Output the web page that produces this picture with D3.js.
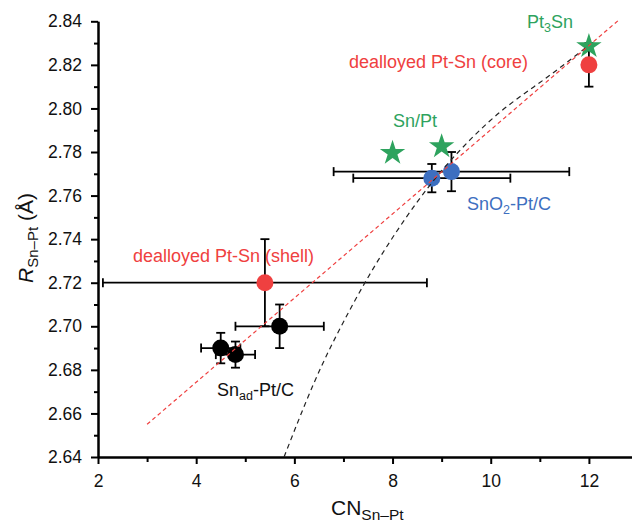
<!DOCTYPE html>
<html>
<head>
<meta charset="utf-8">
<script src="https://cdn.jsdelivr.net/npm/d3@7/dist/d3.min.js"></script>
<style>
  body { margin: 0; background: #fff; }
  svg { display: block; font-family: "Liberation Sans", Arial, sans-serif; }
  .axis path, .axis line { stroke: #000; stroke-width: 2; }
  .axis text { font-size: 17.5px; fill: #111; }
</style>
</head>
<body>
<div id="viz"></div>
<script>
// ---- data ----
var xTicks = [2, 4, 6, 8, 10, 12];
var xMinor = [3, 5, 7, 9, 11, 13];
var yTicks = [2.64, 2.66, 2.68, 2.70, 2.72, 2.74, 2.76, 2.78, 2.80, 2.82, 2.84];
var yMinor = [2.65, 2.67, 2.69, 2.71, 2.73, 2.75, 2.77, 2.79, 2.81, 2.83];

// Sn_ad-Pt/C (black)
var snadCN = [4.5, 4.8, 5.7];
var snadR = [2.690, 2.687, 2.700];
var snadCNErr = [0.4, 0.4, 0.9];
var snadRErr = [0.007, 0.006, 0.010];

// dealloyed Pt-Sn shell / core (red)
var dealCN = [5.4, 12.0];
var dealR = [2.720, 2.820];
var dealCNErr = [3.3, 0];
var dealRErr = [0.020, 0.010];

// SnO2-Pt/C (blue)
var sno2CN = [8.8, 9.2];
var sno2R = [2.768, 2.771];
var sno2CNErr = [1.6, 2.4];
var sno2RErr = [0.0065, 0.009];

// reference compounds (green stars): Sn/Pt, Sn/Pt, Pt3Sn
var refCN = [8.0, 9.0, 12.0];
var refR = [2.780, 2.783, 2.829];

// linear fit (red dashed)
var fitCN = [3.0, 12.63];
var fitR = [2.655, 2.841];

// model curve (black dashed)
var curveCN = [5.79, 6.4, 7.0, 7.7, 8.5, 9.3, 10.2, 11.1, 12.0];
var curveR = [2.640, 2.674, 2.702, 2.730, 2.757, 2.779, 2.7985, 2.8135, 2.829];

var red = "#ef4040", blue = "#3d6fc0", green = "#2ea35e";

var width = 632, height = 522;
var svg = d3.select("#viz").append("svg")
    .attr("width", width)
    .attr("height", height);

var x = d3.scaleLinear().domain([2, 13]).range([98, 638]);
var y = d3.scaleLinear().domain([2.64, 2.84]).range([457, 21.3]);

// axes
svg.append("g")
  .attr("class", "axis")
  .attr("transform", "translate(0," + y(2.64) + ")")
  .call(d3.axisBottom(x).tickValues(xMinor).tickSize(5).tickFormat("").tickSizeOuter(0));
svg.append("g")
  .attr("class", "axis")
  .attr("transform", "translate(0," + y(2.64) + ")")
  .call(d3.axisBottom(x).tickValues(xTicks).tickSize(7).tickPadding(11)
    .tickFormat(d3.format("d")).tickSizeOuter(0));
svg.append("g")
  .attr("class", "axis")
  .attr("transform", "translate(" + x(2) + ",0)")
  .call(d3.axisLeft(y).tickValues(yMinor).tickSize(4).tickFormat("").tickSizeOuter(0));
svg.append("g")
  .attr("class", "axis")
  .attr("transform", "translate(" + x(2) + ",0)")
  .call(d3.axisLeft(y).tickValues(yTicks).tickSize(7).tickPadding(9)
    .tickFormat(d3.format(".2f")).tickSizeOuter(0));

// axis titles
var xt = svg.append("text")
  .attr("x", 331).attr("y", 515)
  .style("font-size", "21px").attr("fill", "#111");
xt.append("tspan").text("CN");
xt.append("tspan").attr("dy", 5).style("font-size", "15.5px").text("Sn\u2013Pt");

var yt = svg.append("text")
  .attr("transform", "translate(33,238) rotate(-90)")
  .attr("text-anchor", "middle")
  .style("font-size", "21px").attr("fill", "#111");
yt.append("tspan").style("font-style", "italic").text("R");
yt.append("tspan").attr("dy", 5).style("font-size", "15px").text("Sn\u2013Pt");
yt.append("tspan").attr("dy", -5).text(" (\u00c5)");

// error bars
function errorBars(cn, r, cnErr, rErr) {
  var g = svg.append("g").attr("stroke", "#000").attr("stroke-width", 1.8).attr("fill", "none");
  var cap = 4.5;
  cn.forEach(function(c, i) {
    var px = x(c), py = y(r[i]);
    if (rErr[i] > 0) {
      var y0 = y(r[i] - rErr[i]), y1 = y(r[i] + rErr[i]);
      g.append("line").attr("x1", px).attr("x2", px).attr("y1", y0).attr("y2", y1);
      g.append("line").attr("x1", px - cap).attr("x2", px + cap).attr("y1", y0).attr("y2", y0);
      g.append("line").attr("x1", px - cap).attr("x2", px + cap).attr("y1", y1).attr("y2", y1);
    }
    if (cnErr[i] > 0) {
      var x0 = x(c - cnErr[i]), x1 = x(c + cnErr[i]);
      g.append("line").attr("x1", x0).attr("x2", x1).attr("y1", py).attr("y2", py);
      g.append("line").attr("x1", x0).attr("x2", x0).attr("y1", py - cap).attr("y2", py + cap);
      g.append("line").attr("x1", x1).attr("x2", x1).attr("y1", py - cap).attr("y2", py + cap);
    }
  });
}
errorBars(snadCN, snadR, snadCNErr, snadRErr);
errorBars(dealCN, dealR, dealCNErr, dealRErr);
errorBars(sno2CN, sno2R, sno2CNErr, sno2RErr);

// circles
function dots(cn, r, color) {
  svg.append("g").selectAll("circle")
    .data(cn)
    .enter()
    .append("circle")
    .attr("cx", function(d) { return x(d); })
    .attr("cy", function(d, i) { return y(r[i]); })
    .attr("r", 8.5)
    .attr("fill", color);
}
dots(snadCN, snadR, "#000");
dots(dealCN, dealR, red);
dots(sno2CN, sno2R, blue);

// stars
var star = d3.symbol().type(d3.symbolStar).size(200);
svg.append("g").selectAll("path")
  .data(refCN)
  .enter()
  .append("path")
  .attr("d", star)
  .attr("transform", function(d, i) { return "translate(" + x(d) + "," + (y(refR[i]) + 1) + ")"; })
  .attr("fill", green);

// dashed lines on top
var line = d3.line()
  .x(function(d) { return x(d[0]); })
  .y(function(d) { return y(d[1]); });
svg.append("path")
  .datum(curveCN.map(function(c, i) { return [c, curveR[i]]; }))
  .attr("d", d3.line().x(function(d) { return x(d[0]); }).y(function(d) { return y(d[1]); })
    .curve(d3.curveNatural))
  .attr("fill", "none").attr("stroke", "#222").attr("stroke-width", 1.2)
  .attr("stroke-dasharray", "5,4");
svg.append("path")
  .datum(fitCN.map(function(c, i) { return [c, fitR[i]]; }))
  .attr("d", line)
  .attr("fill", "none").attr("stroke", red).attr("stroke-width", 1.2)
  .attr("stroke-dasharray", "4,3");

// annotations
function label(px, py, color, parts) {
  var t = svg.append("text").attr("x", px).attr("y", py)
    .style("font-size", "18px").attr("fill", color);
  parts.forEach(function(p) {
    var s = t.append("tspan").text(p[0]);
    if (p[1] === "sub") s.attr("dy", 4).style("font-size", "12.5px");
    if (p[1] === "back") s.attr("dy", -4);
  });
}
label(527, 28, green, [["Pt"], ["3", "sub"], ["Sn", "back"]]);
label(349, 68, red, [["dealloyed Pt-Sn (core)"]]);
label(393, 127, green, [["Sn/Pt"]]);
label(467, 210, blue, [["SnO"], ["2", "sub"], ["-Pt/C", "back"]]);
label(133, 262, red, [["dealloyed Pt-Sn (shell)"]]);
label(217, 396, "#111", [["Sn"], ["ad", "sub"], ["-Pt/C", "back"]]);
</script>
</body>
</html>
